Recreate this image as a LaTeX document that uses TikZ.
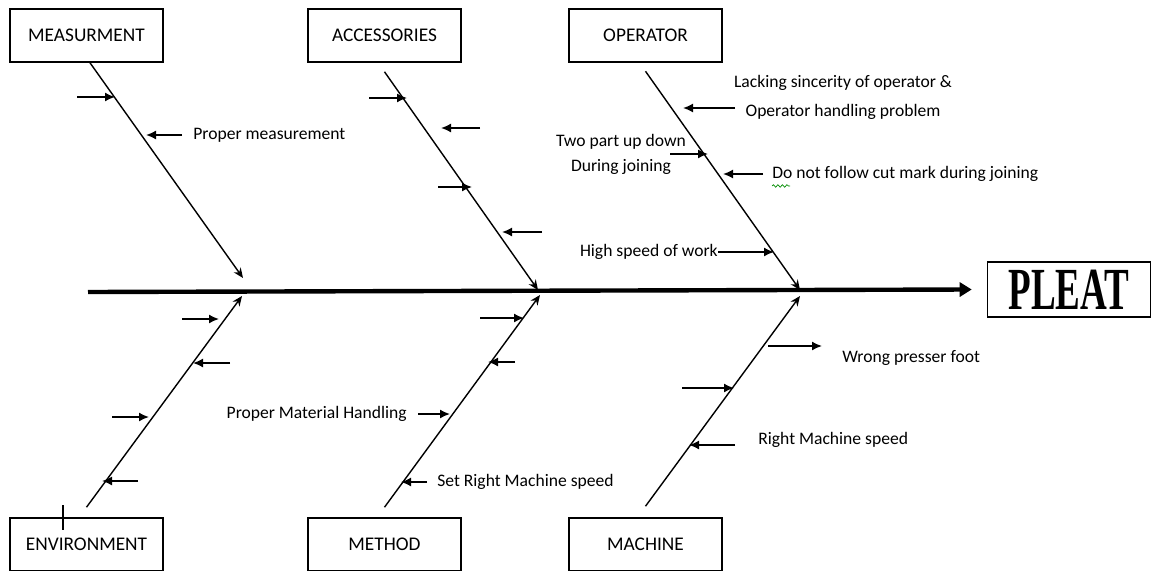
\documentclass[tikz,border=0pt]{standalone}
\usepackage{fontspec}
\setmainfont{Carlito}
\newfontfamily\pleatfont[FakeStretch=0.62]{Liberation Serif}
\usepackage{tikz}
\usetikzlibrary{arrows.meta, positioning, calc, decorations.pathmorphing}
\tikzset{
  causebox/.style={rectangle, draw=black, line width=0.9pt, fill=white,
    minimum width=30.6mm, minimum height=10.6mm, inner sep=0pt,
    font=\fontsize{11}{13}\selectfont},
  effectbox/.style={rectangle, draw=black, line width=0.9pt,
    minimum width=32.6mm, minimum height=11mm, inner sep=0pt,
    font=\pleatfont\bfseries\fontsize{34}{34}\selectfont},
  note/.style={inner sep=0pt, align=center, font=\fontsize{10}{12}\selectfont},
  spine/.style={line width=2.5pt, -{Triangle[length=2.4mm, width=2.8mm]}},
  bone/.style={line width=0.8pt, -{Stealth[length=2mm, width=1.7mm]}},
  twig/.style={line width=0.9pt, -{Latex[length=2mm, width=1.8mm]}}
}

\begin{document}
\begin{tikzpicture}[x=0.2mm, y=-0.2mm]
  \fill[white] (0,0) rectangle (1152,571);
  \useasboundingbox (0,0) rectangle (1152,571);

  % Cause boxes
  \node[causebox] (meas) at (86.5,35.5) {MEASURMENT};
  \node[causebox] (acc) at (384.5,35.5) {ACCESSORIES};
  \node[causebox] (oper) at (645.5,35.5) {OPERATOR};
  \node[causebox] (env) at (86.5,544.5) {ENVIRONMENT};
  \node[causebox] (meth) at (384.5,544.5) {METHOD};
  \node[causebox] (mach) at (645.5,544.5) {MACHINE};

  % Effect
  \node[effectbox] (pleat) at (1069,289.5) {PLEAT};

  % Spine
  \coordinate (tail) at (88,292);
  \draw[spine] (tail) -- ([xshift=-3mm]pleat.west);

  % Bones
  \coordinate (jmt) at (243,278);
  \coordinate (jat) at (538,290);
  \coordinate (jot) at (800,290);
  \coordinate (jmb) at (242,296);
  \coordinate (jab) at (540,295);
  \coordinate (job) at (800,296);
  \draw[bone] ([xshift=0.7mm]meas.south) -- (jmt);
  \draw[bone] ([yshift=-1.8mm]acc.south) -- (jat);
  \draw[bone] ([yshift=-1.7mm]oper.south) -- (jot);
  \draw[bone] ([yshift=2mm]env.north) -- (jmb);
  \draw[bone] ([yshift=2mm]meth.north) -- (jab);
  \draw[bone] ([yshift=2.2mm]mach.north) -- (job);

  % Measurement causes
  \coordinate (m1a) at (77,97);
  \coordinate (m1b) at (115,97);
  \draw[twig] (m1a) -- (m1b);
  \node[note, anchor=west] (m2) at (193,135) {Proper measurement};
  \coordinate (m2b) at (146,135);
  \draw[twig] ([xshift=-2.2mm]m2.west) -- (m2b);

  % Accessories causes
  \coordinate (a1a) at (369,98);
  \coordinate (a1b) at (407,98);
  \coordinate (a2a) at (480,128);
  \coordinate (a2b) at (441,128);
  \coordinate (a3a) at (438,187);
  \coordinate (a3b) at (472,187);
  \coordinate (a4a) at (542,232);
  \coordinate (a4b) at (502,232);
  \draw[twig] (a1a) -- (a1b);
  \draw[twig] (a2a) -- (a2b);
  \draw[twig] (a3a) -- (a3b);
  \draw[twig] (a4a) -- (a4b);

  % Operator causes
  \node[note, font=\fontsize{10}{16.4}\selectfont] (o1) at (843,97.5)
    {Lacking sincerity of operator \&\\Operator handling problem};
  \coordinate (o1a) at (735,108);
  \coordinate (o1b) at (683,108);
  \draw[twig] (o1a) -- (o1b);
  \node[note, font=\fontsize{10}{14.2}\selectfont] (o2) at (621,154.5)
    {Two part up down\\During joining};
  \coordinate (o2a) at (670,154);
  \coordinate (o2b) at (708,154);
  \draw[twig] (o2a) -- (o2b);
  \node[note, anchor=west] (o3) at (772,174) {Do not follow cut mark during joining};
  \coordinate (o3b) at (723,174);
  \draw[twig] ([xshift=-1.8mm]o3.west) -- (o3b);
  \draw[green!55!black, line width=0.4pt, decorate,
    decoration={snake, amplitude=0.25mm, segment length=0.9mm}]
    ([yshift=-0.8mm]o3.south west) -- ++(18,0);
  \node[note, anchor=east] (o4) at (718,252) {High speed of work};
  \coordinate (o4b) at (774,252);
  \draw[twig] (o4.east) -- (o4b);

  % Environment causes
  \coordinate (e1a) at (182,319);
  \coordinate (e1b) at (219,319);
  \coordinate (e2a) at (230,363);
  \coordinate (e2b) at (193,363);
  \coordinate (e3a) at (112,417);
  \coordinate (e3b) at (149,417);
  \coordinate (e4a) at (138,481);
  \coordinate (e4b) at (102,481);
  \draw[twig] (e1a) -- (e1b);
  \draw[twig] (e2a) -- (e2b);
  \draw[twig] (e3a) -- (e3b);
  \draw[twig] (e4a) -- (e4b);
  \coordinate (tick1) at (63,505);
  \coordinate (tick2) at (63,530);
  \draw[line width=0.9pt] (tick1) -- (tick2);

  % Method causes
  \coordinate (d1a) at (480,318);
  \coordinate (d1b) at (524,318);
  \coordinate (d2a) at (515,362);
  \coordinate (d2b) at (488,362);
  \draw[twig] (d1a) -- (d1b);
  \draw[twig] (d2a) -- (d2b);
  \node[note, anchor=east] (d3) at (407,414) {Proper Material Handling};
  \coordinate (d3b) at (450,414);
  \draw[twig] ([xshift=2.2mm]d3.east) -- (d3b);
  \node[note, anchor=west] (d4) at (437,482) {Set Right Machine speed};
  \coordinate (d4b) at (401,482);
  \draw[twig] ([xshift=-2mm]d4.west) -- (d4b);

  % Machine causes
  \node[note, anchor=west] (c1) at (842,358) {Wrong presser foot};
  \coordinate (c1a) at (768,346);
  \coordinate (c1b) at (822,346);
  \draw[twig] (c1a) -- (c1b);
  \coordinate (c2a) at (682,388);
  \coordinate (c2b) at (734,388);
  \draw[twig] (c2a) -- (c2b);
  \node[note, anchor=west] (c3) at (758,440) {Right Machine speed};
  \coordinate (c3a) at (735,445);
  \coordinate (c3b) at (689,445);
  \draw[twig] (c3a) -- (c3b);
\end{tikzpicture}
\end{document}
